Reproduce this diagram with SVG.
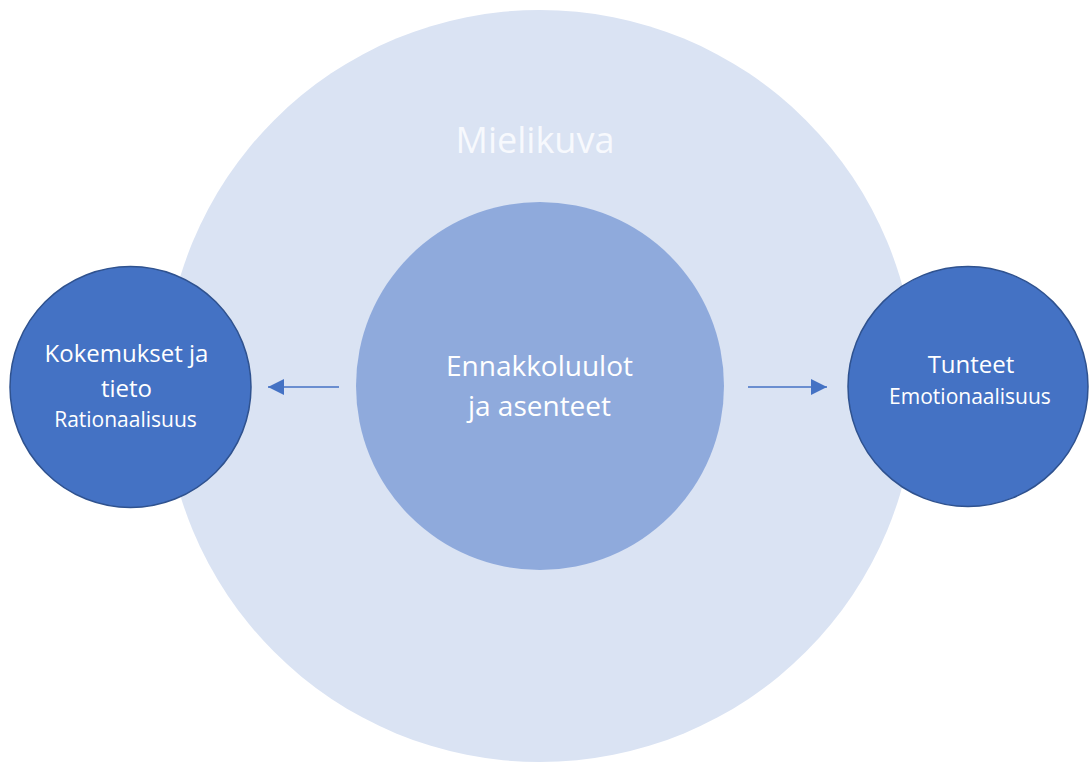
<svg xmlns="http://www.w3.org/2000/svg" width="1089" height="763" viewBox="0 0 1089 763">
  <defs>
    <style>
      text { font-family: "Open Sans", "Liberation Sans", sans-serif; fill: #FFFFFF; text-anchor: middle; }
      .side { fill: #4472C4; stroke: #2F528F; stroke-width: 1.5; }
      .conn { stroke: #4472C4; stroke-width: 1.5; fill: none; }
    </style>
    <marker id="arrow" viewBox="0 0 10 10" refX="10" refY="5" markerWidth="16" markerHeight="16" markerUnits="userSpaceOnUse" orient="auto">
      <path d="M0,0 L10,5 L0,10 z" fill="#4472C4"/>
    </marker>
  </defs>
  <rect width="1089" height="763" fill="#FFFFFF"/>
  <g id="mielikuva">
    <circle cx="540" cy="386" r="376" fill="#DAE3F3"/>
    <text x="535" y="153" font-size="36" style="fill:#F7F9FD">Mielikuva</text>
  </g>
  <g id="ennakkoluulot">
    <circle cx="540" cy="386" r="184" fill="#8FAADC"/>
    <text x="539.5" y="376" font-size="28">Ennakkoluulot</text>
    <text x="539.5" y="416" font-size="28">ja asenteet</text>
  </g>
  <g id="kokemukset">
    <circle class="side" cx="130.5" cy="387" r="120.5"/>
    <text x="126.5" y="362" font-size="24">Kokemukset ja</text>
    <text x="126.5" y="397" font-size="24">tieto</text>
    <text x="125.5" y="427" font-size="21">Rationaalisuus</text>
  </g>
  <g id="tunteet">
    <circle class="side" cx="968" cy="386.5" r="120"/>
    <text x="971" y="373" font-size="24">Tunteet</text>
    <text x="970" y="404" font-size="21">Emotionaalisuus</text>
  </g>
  <g id="connectors">
    <line class="conn" x1="339" y1="387" x2="268" y2="387" marker-end="url(#arrow)"/>
    <line class="conn" x1="748" y1="387" x2="827" y2="387" marker-end="url(#arrow)"/>
  </g>
</svg>
